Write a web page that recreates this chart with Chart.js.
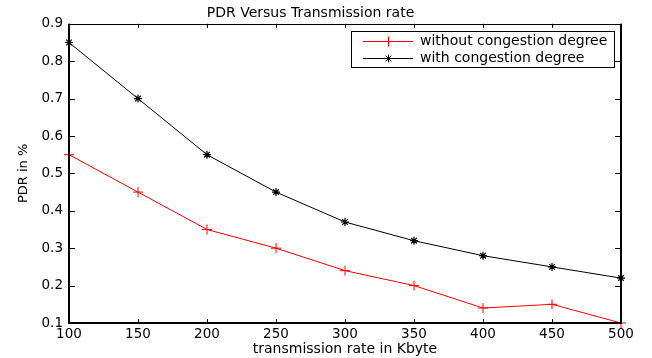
<!DOCTYPE html>
<html>
<head>
<meta charset="utf-8">
<script src="https://cdn.jsdelivr.net/npm/chart.js@4"></script>
<style>
  html, body { margin: 0; padding: 0; background: #fff; }
</style>
</head>
<body>
<canvas id="chart" width="652" height="358"></canvas>
<script>
// values
const rates = [100, 150, 200, 250, 300, 350, 400, 450, 500];
const withoutCongestion = [0.55, 0.45, 0.35, 0.30, 0.24, 0.20, 0.14, 0.15, 0.10];
const withCongestion = [0.85, 0.70, 0.55, 0.45, 0.37, 0.32, 0.28, 0.25, 0.22];
const xTicks = [100, 150, 200, 250, 300, 350, 400, 450, 500];
const yTicks = [0.1, 0.2, 0.3, 0.4, 0.5, 0.6, 0.7, 0.8, 0.9];

const FONT = "'DejaVu Sans', sans-serif";
Chart.defaults.font.family = FONT;
Chart.defaults.color = '#000';

const toPoints = vals => rates.map((r, i) => ({ x: r, y: vals[i] }));

// MATLAB-ish box with inward ticks, plus a line+marker legend
const axesBox = {
  id: 'axesBox',
  afterDraw(chart) {
    const { ctx, chartArea: a, scales: { x, y } } = chart;
    ctx.save();
    ctx.strokeStyle = '#000';
    ctx.lineWidth = 1;
    ctx.beginPath();
    xTicks.forEach(v => {
      const px = Math.round(x.getPixelForValue(v)) + 0.5;
      ctx.moveTo(px, a.bottom); ctx.lineTo(px, a.bottom - 4);
      ctx.moveTo(px, a.top); ctx.lineTo(px, a.top + 4);
    });
    yTicks.forEach(v => {
      const py = Math.round(y.getPixelForValue(v)) + 0.5;
      ctx.moveTo(a.left, py); ctx.lineTo(a.left + 6, py);
      ctx.moveTo(a.right, py); ctx.lineTo(a.right - 6, py);
    });
    ctx.stroke();

    ctx.lineWidth = 2;
    ctx.beginPath();
    ctx.moveTo(a.left, a.top); ctx.lineTo(a.left, a.bottom);
    ctx.lineTo(a.right, a.bottom); ctx.lineTo(a.right, a.top);
    ctx.stroke();
    ctx.lineWidth = 1;
    ctx.beginPath();
    ctx.moveTo(a.left, Math.round(a.top) + 0.5); ctx.lineTo(a.right, Math.round(a.top) + 0.5);
    ctx.stroke();

    // legend
    const sets = chart.data.datasets;
    ctx.font = '14px ' + FONT;
    const textW = Math.max(...sets.map(d => ctx.measureText(d.label).width));
    const padL = 11, lineLen = 50, gap = 7, padR = 8, rowH = 17;
    const right = Math.round(a.right - 7) + 0.5;
    const top = Math.round(a.top + 7) + 0.5;
    const w = Math.round(padL + lineLen + gap + textW + padR);
    const h = rowH * sets.length + 2;
    const left = right - w;
    ctx.fillStyle = '#fff';
    ctx.fillRect(left, top, w, h);
    ctx.strokeStyle = '#000';
    ctx.lineWidth = 1;
    ctx.strokeRect(left, top, w, h);
    sets.forEach((d, i) => {
      const cy = Math.round(top + 9 + i * rowH);
      const x0 = Math.round(left + padL);
      ctx.fillStyle = d.borderColor;
      ctx.fillRect(x0, cy, lineLen, 1);
      ctx.strokeStyle = d.borderColor;
      Chart.helpers.drawPoint(ctx, { pointStyle: d.pointStyle, radius: d.pointRadius, rotation: 0, borderWidth: 1 }, x0 + lineLen / 2 + 0.5, cy + 0.5);
      ctx.fillStyle = '#000';
      ctx.textAlign = 'left';
      ctx.textBaseline = 'middle';
      ctx.fillText(d.label, x0 + lineLen + gap, cy + 0.5);
    });
    ctx.restore();
  }
};

new Chart(document.getElementById('chart'), {
  type: 'line',
  data: {
    datasets: [
      {
        label: 'without congestion degree',
        data: toPoints(withoutCongestion),
        borderColor: '#ff0000',
        backgroundColor: '#ff0000',
        borderWidth: 1,
        pointStyle: 'cross',
        pointRadius: 5,
        pointBorderWidth: 1,
        tension: 0,
        clip: false
      },
      {
        label: 'with congestion degree',
        data: toPoints(withCongestion),
        borderColor: '#000000',
        backgroundColor: '#000000',
        borderWidth: 1,
        pointStyle: 'star',
        pointRadius: 4,
        pointBorderWidth: 1.2,
        tension: 0,
        clip: false
      }
    ]
  },
  options: {
    responsive: false,
    animation: false,
    devicePixelRatio: 1,
    layout: { padding: { left: 0, right: 31, top: 0, bottom: 0 } },
    plugins: {
      legend: { display: false },
      tooltip: { enabled: false },
      title: {
        display: true,
        text: 'PDR Versus Transmission rate',
        color: '#000',
        font: { size: 14, weight: 'normal' },
        padding: { top: 5, bottom: 2 }
      }
    },
    scales: {
      x: {
        type: 'linear',
        min: 100,
        max: 500,
        afterBuildTicks: s => { s.ticks = xTicks.map(v => ({ value: v })); },
        afterFit: s => { s.height = 35; },
        grid: { display: false, drawTicks: false },
        border: { display: false },
        ticks: { font: { size: 13.5 }, color: '#000', padding: 3, maxRotation: 0, autoSkip: false },
        title: { display: true, text: 'transmission rate in Kbyte', font: { size: 14 }, color: '#000', padding: { top: 0, bottom: 0 } }
      },
      y: {
        min: 0.1,
        max: 0.9,
        afterBuildTicks: s => { s.ticks = yTicks.map(v => ({ value: v })); },
        afterFit: s => { s.width = 69; },
        grid: { display: false, drawTicks: false },
        border: { display: false },
        ticks: { font: { size: 13.5 }, color: '#000', padding: 6, callback: v => v.toFixed(1) },
        title: { display: true, text: 'PDR in %', font: { size: 13 }, color: '#000', padding: { top: 16, bottom: 0 } }
      }
    }
  },
  plugins: [axesBox]
});
</script>
</body>
</html>
